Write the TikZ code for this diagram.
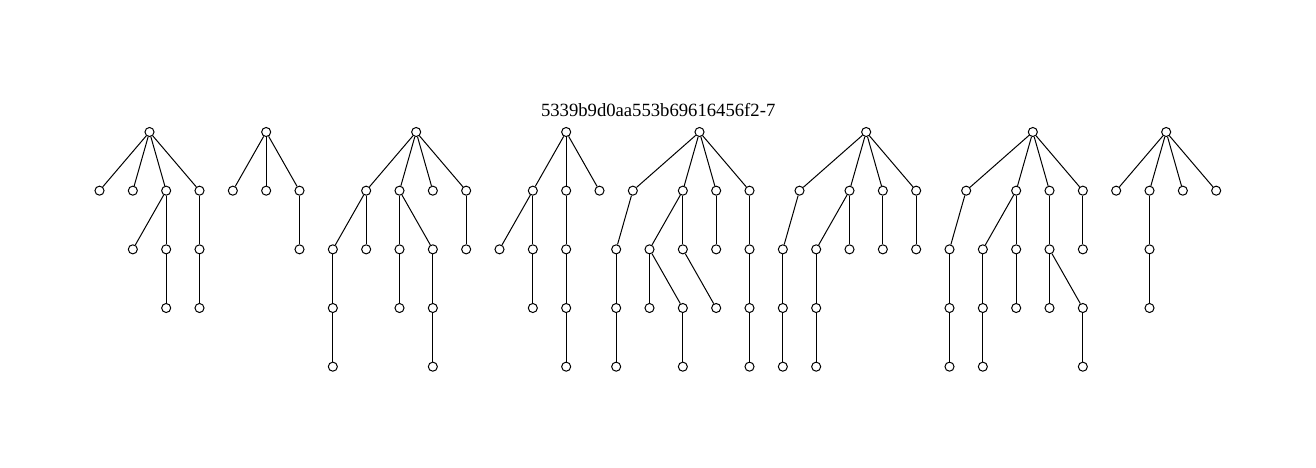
\documentclass[tikz,border=0pt]{standalone}
\usepackage{fontspec}
\setmainfont{Liberation Serif}
\usepackage{tikz}

\begin{document}
\begin{tikzpicture}[
  x=25pt, y=-44pt,
  vtx/.style={draw, circle, fill=white, inner sep=0pt, minimum size=6.8pt, line width=0.75pt},
  lnk/.style={line width=0.75pt}]
\useasboundingbox (-2.985,-2.25) rectangle (36.495,5.727);
\node[font=\fontsize{14}{16}\selectfont] (title) at (16.76,-0.37) {5339b9d0aa553b69616456f2-7};
% tree nodes: name/column/level
\foreach \n/\x/\y in {a/1.5/0, a1/0/1, a2/1/1, a3/2/1, a4/3/1, a31/1/2, a32/2/2, a321/2/3, a41/3/2, a411/3/3,
  b/5/0, b1/4/1, b2/5/1, b3/6/1, b31/6/2,
  c/9.5/0, c1/8/1, c2/9/1, c3/10/1, c4/11/1, c11/7/2, c12/8/2, c111/7/3, c1111/7/4,
  c21/9/2, c22/10/2, c211/9/3, c221/10/3, c2211/10/4, c41/11/2,
  d/14/0, d1/13/1, d2/14/1, d3/15/1, d11/12/2, d12/13/2, d121/13/3, d21/14/2, d211/14/3, d2111/14/4,
  e/18/0, e1/16/1, e2/17.5/1, e3/18.5/1, e4/19.5/1, e11/15.5/2, e111/15.5/3, e1111/15.5/4,
  e21/16.5/2, e22/17.5/2, e211/16.5/3, e212/17.5/3, e2121/17.5/4, e221/18.5/3, e31/18.5/2,
  e41/19.5/2, e411/19.5/3, e4111/19.5/4,
  f/23/0, f1/21/1, f2/22.5/1, f3/23.5/1, f4/24.5/1, f11/20.5/2, f111/20.5/3, f1111/20.5/4,
  f21/21.5/2, f211/21.5/3, f2111/21.5/4, f22/22.5/2, f31/23.5/2, f41/24.5/2,
  g/28/0, g1/26/1, g2/27.5/1, g3/28.5/1, g4/29.5/1, g11/25.5/2, g111/25.5/3, g1111/25.5/4,
  g21/26.5/2, g211/26.5/3, g2111/26.5/4, g22/27.5/2, g221/27.5/3,
  g31/28.5/2, g311/28.5/3, g312/29.5/3, g3121/29.5/4, g41/29.5/2,
  h/32/0, h1/30.5/1, h2/31.5/1, h3/32.5/1, h4/33.5/1, h21/31.5/2, h211/31.5/3}
  \node[vtx] (\n) at (\x,\y) {};
% parent/child links
\foreach \p/\c in {a/a1, a/a2, a/a3, a/a4, a3/a31, a3/a32, a32/a321, a4/a41, a41/a411,
  b/b1, b/b2, b/b3, b3/b31,
  c/c1, c/c2, c/c3, c/c4, c1/c11, c1/c12, c11/c111, c111/c1111,
  c2/c21, c2/c22, c21/c211, c22/c221, c221/c2211, c4/c41,
  d/d1, d/d2, d/d3, d1/d11, d1/d12, d12/d121, d2/d21, d21/d211, d211/d2111,
  e/e1, e/e2, e/e3, e/e4, e1/e11, e11/e111, e111/e1111,
  e2/e21, e2/e22, e21/e211, e21/e212, e212/e2121, e22/e221, e3/e31,
  e4/e41, e41/e411, e411/e4111,
  f/f1, f/f2, f/f3, f/f4, f1/f11, f11/f111, f111/f1111,
  f2/f21, f2/f22, f21/f211, f211/f2111, f3/f31, f4/f41,
  g/g1, g/g2, g/g3, g/g4, g1/g11, g11/g111, g111/g1111,
  g2/g21, g2/g22, g21/g211, g211/g2111, g22/g221,
  g3/g31, g31/g311, g31/g312, g312/g3121, g4/g41,
  h/h1, h/h2, h/h3, h/h4, h2/h21, h21/h211}
  \draw[lnk] (\p) -- (\c);
\end{tikzpicture}
\end{document}
